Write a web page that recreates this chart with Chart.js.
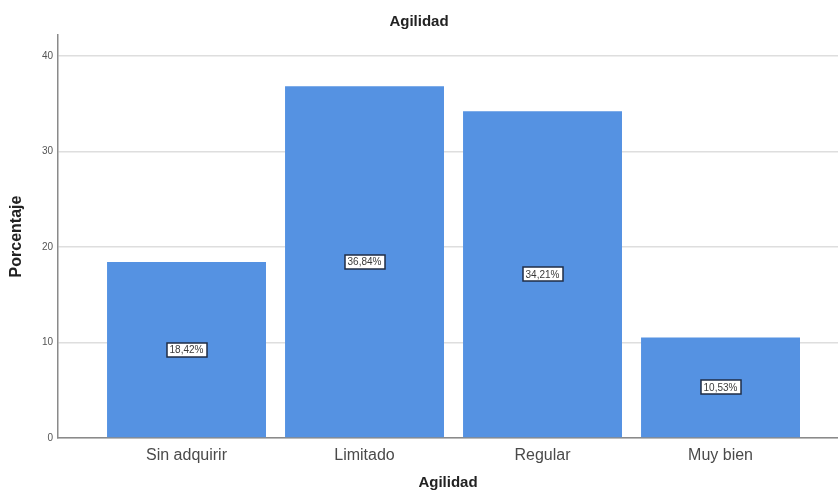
<!DOCTYPE html>
<html lang="es">
<head>
  <meta charset="UTF-8">
  <title>Agilidad</title>
  <script src="https://cdn.jsdelivr.net/npm/chart.js@4.4.1/dist/chart.umd.min.js"></script>
  <style>
    html, body { margin: 0; padding: 0; background: #fff; }
    #wrap { width: 838px; height: 495px; }
  </style>
</head>
<body>
<div id="wrap"><canvas id="grafico" width="838" height="495"></canvas></div>

<script>
  const categorias = ["Sin adquirir", "Limitado", "Regular", "Muy bien"];
  const porcentajes = [18.42, 36.84, 34.21, 10.53];
  const ticksY = [0, 10, 20, 30, 40];

  const FUENTE = "'Liberation Sans', Arial, sans-serif";
  const X_MIN = -0.722, X_MAX = 3.66;

  // etiqueta con caja blanca en el centro de cada barra
  const etiquetas = {
    id: "etiquetas",
    afterDatasetsDraw(chart) {
      const ctx = chart.ctx;
      const meta = chart.getDatasetMeta(0);
      ctx.save();
      ctx.font = "10px " + FUENTE;
      ctx.textAlign = "center";
      ctx.textBaseline = "middle";
      meta.data.forEach((barra, i) => {
        const txt = porcentajes[i].toFixed(2).replace(".", ",") + "%";
        const cx = barra.x;
        const cy = (barra.y + barra.base) / 2;
        const w = Math.round(ctx.measureText(txt).width + 6);
        const h = 14;
        const x0 = Math.round(cx - w / 2), y0 = Math.round(cy - h / 2);
        ctx.fillStyle = "#fff";
        ctx.fillRect(x0, y0, w, h);
        ctx.strokeStyle = "#1f2d45";
        ctx.lineWidth = 1.5;
        ctx.strokeRect(x0, y0, w, h);
        ctx.fillStyle = "#3a3a3a";
        ctx.fillText(txt, cx, cy + 0.5);
      });
      ctx.restore();
    }
  };

  new Chart(document.getElementById("grafico"), {
    type: "bar",
    data: {
      datasets: [{
        label: "Porcentaje",
        data: porcentajes.map((v, i) => ({ x: i, y: v })),
        backgroundColor: "#5592e2",
        borderWidth: 0,
        categoryPercentage: 1,
        barPercentage: 0.893
      }]
    },
    options: {
      responsive: false,
      animation: false,
      layout: { padding: { left: 0, right: 0, top: 0, bottom: 0 } },
      plugins: {
        legend: { display: false },
        tooltip: { enabled: false },
        title: {
          display: true,
          text: "Agilidad",
          color: "#222",
          font: { family: FUENTE, size: 15, weight: "bold" },
          padding: { top: 13, bottom: 4 }
        }
      },
      scales: {
        x: {
          type: "linear",
          offset: false,
          bounds: "data",
          min: X_MIN,
          max: X_MAX,
          afterBuildTicks: (scale) => {
            scale.ticks = categorias.map((c, i) => ({ value: i }));
          },
          afterFit: (scale) => { scale.height = 57; },
          ticks: {
            autoSkip: false,
            maxRotation: 0,
            padding: 8,
            color: "#4a4a4a",
            font: { family: FUENTE, size: 16 },
            callback: (v) => categorias[v]
          },
          grid: { display: false, drawTicks: false, offset: false },
          border: { display: true, color: "#8a8a8a", width: 1.5 },
          title: {
            display: true,
            text: "Agilidad",
            color: "#222",
            font: { family: FUENTE, size: 15, weight: "bold" },
            padding: { top: 3, bottom: 3 }
          }
        },
        y: {
          bounds: "data",
          min: 0,
          max: 42.2,
          afterBuildTicks: (scale) => {
            scale.ticks = ticksY.map(v => ({ value: v }));
          },
          afterFit: (scale) => { scale.width = 58; },
          ticks: {
            padding: 5,
            color: "#555",
            font: { family: FUENTE, size: 10 }
          },
          grid: { color: "#dedede", lineWidth: 1.5, drawTicks: false },
          border: { display: true, color: "#8a8a8a", width: 1.5 },
          title: {
            display: true,
            text: "Porcentaje",
            color: "#222",
            font: { family: FUENTE, size: 16, weight: "bold" },
            padding: { top: 7, bottom: 0 }
          }
        }
      }
    },
    plugins: [etiquetas]
  });
</script>
</body>
</html>
